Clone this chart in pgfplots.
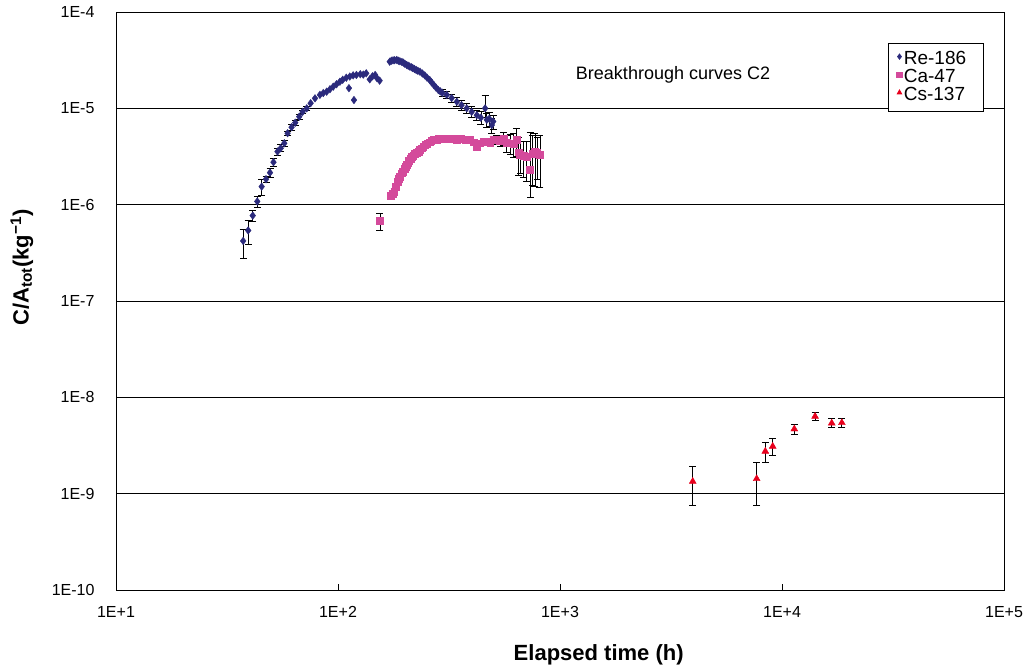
\documentclass[border=0pt]{standalone}
\usepackage{fontspec}
\setmainfont{Liberation Sans}
\usepackage{pgfplots}
\usepackage{pgfplotstable}
\pgfplotsset{compat=1.18}
\definecolor{reblue}{RGB}{43,42,124}
\definecolor{capink}{RGB}{212,74,155}
\definecolor{csred}{RGB}{232,0,28}

% Re-186, points with visible error bars
\pgfplotstableread{
x y ep em
37.4 4.2e-7 1.4e-7 1.4e-7
39.4 5.4e-7 1.5e-7 1.5e-7
41.3 7.7e-7 1.0e-7 1.0e-7
43.3 1.08e-6 1.4e-7 1.4e-7
45.3 1.54e-6 3.0e-7 3.0e-7
47.4 1.84e-6 1.5e-7 1.5e-7
49.4 2.15e-6 2.4e-7 2.4e-7
51.2 2.76e-6 2.8e-7 2.8e-7
53.4 3.56e-6 3.0e-7 3.0e-7
55.2 3.86e-6 3.2e-7 3.2e-7
57.3 4.34e-6 3.5e-7 3.5e-7
59.3 5.52e-6 3.0e-7 3.0e-7
61.8 6.37e-6 4.0e-7 4.0e-7
64.2 7.1e-6 4.0e-7 4.0e-7
66.9 8.2e-6 5.0e-7 5.0e-7
69.3 9.2e-6 4.0e-7 4.0e-7
72.3 1.0e-5 4.0e-7 4.0e-7
295 1.45e-5 1.2e-6 1.2e-6
309 1.38e-5 1.2e-6 1.2e-6
325 1.28e-5 1.2e-6 1.2e-6
343 1.17e-5 1.2e-6 1.2e-6
360 1.08e-5 1.2e-6 1.2e-6
380 1.0e-5 1.2e-6 1.2e-6
400 9.2e-6 1.2e-6 1.2e-6
422 8.5e-6 1.0e-6 1.0e-6
440 8.0e-6 1.2e-6 1.2e-6
460 1.0e-5 3.6e-6 2.0e-6
468 7.6e-6 1.2e-6 1.2e-6
480 7.8e-6 1.3e-6 1.3e-6
493 6.7e-6 1.2e-6 1.2e-6
500 7.3e-6 1.2e-6 1.2e-6
}\retab
% Re-186, points whose error bars hide under the marker
\pgfplotstableread{
x y
75.3 1.13e-5
78.8 1.27e-5
82.9 1.38e-5
85.8 1.44e-5
88.9 1.49e-5
92.0 1.58e-5
95.2 1.68e-5
98.5 1.78e-5
102 1.89e-5
105 1.98e-5
109 2.08e-5
112 1.62e-5
113 2.14e-5
117 2.20e-5
118 1.22e-5
121 2.22e-5
126 2.26e-5
130 2.24e-5
134 2.31e-5
139 2.00e-5
143 2.15e-5
147 2.22e-5
150 2.05e-5
154 1.94e-5
171 3.05e-5
174 3.12e-5
177 3.15e-5
180 3.16e-5
184 3.18e-5
187 3.12e-5
190 3.08e-5
194 3.03e-5
197 2.98e-5
200 2.90e-5
204 2.82e-5
207 2.77e-5
210 2.72e-5
214 2.67e-5
217 2.62e-5
221 2.56e-5
225 2.50e-5
229 2.45e-5
234 2.40e-5
240 2.30e-5
246 2.20e-5
252 2.08e-5
259 1.97e-5
264 1.86e-5
270 1.75e-5
276 1.65e-5
283 1.55e-5
289 1.50e-5
}\rebtab

\pgfplotstableread{
x y ep em
154.5 6.8e-7 1.4e-7 1.4e-7
173 1.23e-6 1.0e-7 1.0e-7
176 1.30e-6 1.0e-7 1.0e-7
179 1.37e-6 1e-7 1e-7
375 4.75e-6 2.5e-7 2.5e-7
394 4.70e-6 2.5e-7 2.5e-7
410 4.45e-6 3e-7 3e-7
422 4.00e-6 3e-7 3e-7
436 4.34e-6 3e-7 3e-7
452 4.50e-6 3.5e-7 3.5e-7
468 4.50e-6 4e-7 4e-7
485 4.40e-6 4e-7 4e-7
500 4.70e-6 4.5e-7 4.5e-7
519 4.70e-6 5e-7 5e-7
537 4.60e-6 6e-7 6e-7
556 4.90e-6 8e-7 8e-7
575 4.40e-6 9e-7 9e-7
596 4.35e-6 1.0e-6 1.0e-6
617 4.30e-6 1.2e-6 1.2e-6
638 4.70e-6 1.5e-6 1.5e-6
650 3.50e-6 1.5e-6 1.5e-6
661 3.29e-6 1.2e-6 1.2e-6
685 3.20e-6 1.3e-6 1.3e-6
708 3.16e-6 1.4e-6 1.4e-6
733 2.30e-6 3.3e-6 1.1e-6
752 3.40e-6 1.8e-6 1.8e-6
771 3.56e-6 2.0e-6 2.0e-6
790 3.45e-6 1.6e-6 1.6e-6
812 3.30e-6 2.0e-6 1.8e-6
}\catab
\pgfplotstableread{
x y
182 1.55e-6
185 1.74e-6
188 1.85e-6
190 1.95e-6
194 2.12e-6
196 2.22e-6
199 2.35e-6
202 2.47e-6
204 2.59e-6
207 2.72e-6
209 2.85e-6
212 3.00e-6
215 3.16e-6
218 3.25e-6
222 3.35e-6
226 3.45e-6
230 3.56e-6
234 3.70e-6
238 3.85e-6
242 4.00e-6
247 4.17e-6
252 4.30e-6
258 4.45e-6
263 4.58e-6
269 4.70e-6
274 4.72e-6
279 4.75e-6
285 4.80e-6
290 4.85e-6
296 4.88e-6
303 4.90e-6
309 4.88e-6
316 4.85e-6
323 4.88e-6
330 4.90e-6
336 4.82e-6
343 4.75e-6
350 4.78e-6
358 4.80e-6
366 4.78e-6
}\cabtab

\pgfplotstableread{
x y ep em
3963 1.34e-9 0.58e-9 0.58e-9
7690 1.43e-9 0.70e-9 0.68e-9
8410 2.75e-9 0.65e-9 0.62e-9
9080 3.10e-9 0.62e-9 0.62e-9
11360 4.69e-9 0.61e-9 0.59e-9
14090 6.34e-9 0.64e-9 0.59e-9
16750 5.40e-9 0.60e-9 0.55e-9
18600 5.45e-9 0.60e-9 0.55e-9
}\cstab

\begin{document}
\begin{tikzpicture}
\path[use as bounding box] (-116pt,-80pt) rectangle (910pt,590pt);
\begin{axis}[
  at={(0pt,0pt)}, anchor=south west,
  scale only axis, width=888pt, height=578pt,
  xmode=log, ymode=log,
  xmin=10, xmax=100000, ymin=1e-10, ymax=1e-4,
  xtick={10,100,1000,10000,100000},
  xticklabels={1E+1,1E+2,1E+3,1E+4,1E+5},
  ytick={1e-10,1e-9,1e-8,1e-7,1e-6,1e-5,1e-4},
  yticklabels={1E-10,1E-9,1E-8,1E-7,1E-6,1E-5,1E-4},
  minor x tick style={draw=none}, minor y tick style={draw=none},
  tick pos=left, tick align=inside, major tick length=6pt,
  ymajorgrids, grid style={black, line width=0.8pt},
  axis line style={black, line width=1pt},
  tick style={black, line width=0.8pt},
  xticklabel style={font=\fontsize{16}{16}\selectfont, yshift=-13pt},
  yticklabel style={font=\fontsize{16}{16}\selectfont, xshift=-18pt},
  clip=false,
  legend style={at={(0.869,0.946)}, anchor=north west, draw=black, line width=0.8pt,
    fill=white, font=\fontsize{19}{19}\selectfont, inner xsep=6pt, inner ysep=7pt,
    row sep=0pt, nodes={inner sep=1pt, text height=12.5pt, text depth=3.5pt},
    legend cell align=left},
  legend image code/.code={\path[#1, mark size=2.6pt] plot coordinates {(5pt,3pt)}; \path (0pt,0pt) (8pt,0pt);},
  error bars/error bar style={black, line width=0.7pt},
  error bars/error mark options={rotate=90, black, mark size=3.5pt, line width=0.7pt},
]
\addplot[only marks, mark=diamond*, mark size=3.8pt, color=reblue,
  error bars/.cd, y dir=both, y explicit]
  table[x=x, y=y, y error plus=ep, y error minus=em] {\retab};
\addlegendentry{Re-186\kern10pt\null}
\addplot[only marks, mark=diamond*, mark size=3.8pt, color=reblue, forget plot]
  table[x=x, y=y] {\rebtab};
\addplot[only marks, mark=square*, mark size=3.4pt, color=capink,
  error bars/.cd, y dir=both, y explicit]
  table[x=x, y=y, y error plus=ep, y error minus=em] {\catab};
\addlegendentry{Ca-47}
\addplot[only marks, mark=square*, mark size=3.4pt, color=capink, forget plot]
  table[x=x, y=y] {\cabtab};
\addplot[only marks, mark=triangle*, mark size=4pt, color=csred,
  error bars/.cd, y dir=both, y explicit]
  table[x=x, y=y, y error plus=ep, y error minus=em] {\cstab};
\addlegendentry{Cs-137\kern10pt\null}
\node[anchor=west, font=\fontsize{18}{18}\selectfont] at (rel axis cs:0.514,0.891) {Breakthrough curves C2};
\end{axis}
\node[rotate=90, font=\bfseries\fontsize{22}{22}\selectfont] at (-94pt,322.5pt) {C/A\textsubscript{tot}(kg\textsuperscript{\char"2212 1})};
\node[font=\bfseries\fontsize{22}{22}\selectfont] at (482.7pt,-65pt) {Elapsed time (h)};
\end{tikzpicture}
\end{document}
